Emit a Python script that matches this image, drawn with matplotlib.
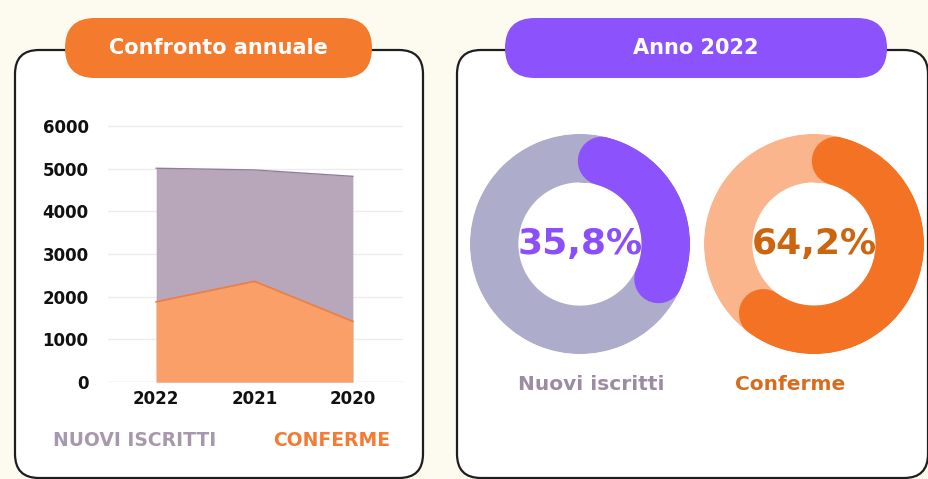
import numpy as np
import matplotlib.pyplot as plt
from matplotlib.patches import FancyBboxPatch

# data
anni = ['2022', '2021', '2020']
nuovi_iscritti = [5010, 4970, 4820]   # top of the mauve area
conferme = [1880, 2360, 1420]         # top of the orange area
y_ticks = [0, 1000, 2000, 3000, 4000, 5000, 6000]

quota_nuovi = 35.8
quota_conferme = 64.2

W, H = 929, 479
fig = plt.figure(figsize=(W / 100, H / 100), dpi=100)
fig.patch.set_facecolor('#fdfaf0')

# background layer in pixel coords, for panels and title pills
bg = fig.add_axes([0, 0, 1, 1])
bg.set_xlim(0, W)
bg.set_ylim(H, 0)
bg.axis('off')

def box(x, y, w, h, r, fc, ec='none', lw=0, z=1):
    bg.add_patch(FancyBboxPatch((x, y), w, h, boxstyle=f'round,pad=0,rounding_size={r}',
                                fc=fc, ec=ec, lw=lw, zorder=z))

box(15, 50, 408, 428, 24, 'white', '#1e1e1e', 1.6)
box(457, 50, 471, 428, 24, 'white', '#1e1e1e', 1.6)
box(65, 18, 307, 60, 30, '#f47a2e', z=3)
box(505, 18, 382, 60, 30, '#8c52fb', z=3)

bold = dict(family='DejaVu Sans', fontweight='bold')
bg.text(218, 48, 'Confronto annuale', color='white', fontsize=15, ha='center', va='center', zorder=4, **bold)
bg.text(696, 48, 'Anno 2022', color='white', fontsize=15, ha='center', va='center', zorder=4, **bold)
bg.text(53, 440, 'NUOVI ISCRITTI', color='#a898ad', fontsize=13.5, ha='left', va='center', zorder=4, **bold)
bg.text(390, 440, 'CONFERME', color='#f47b34', fontsize=13.5, ha='right', va='center', zorder=4, **bold)
bg.text(591, 385, 'Nuovi iscritti', color='#9c8ca1', fontsize=14.5, ha='center', va='center', zorder=4, **bold)
bg.text(790, 384, 'Conferme', color='#d86b1c', fontsize=14.5, ha='center', va='center', zorder=4, **bold)

# area chart
ax = fig.add_axes([108 / W, 1 - 382 / H, 295 / W, (382 - 119.6) / H])
ax.patch.set_alpha(0)
x = np.arange(len(anni))
ax.fill_between(x, nuovi_iscritti, color='#b8a6bb', lw=0, zorder=2)
ax.plot(x, nuovi_iscritti, color='#8f7f96', lw=1, zorder=3)
ax.fill_between(x, conferme, color='#fa9f68', lw=0, zorder=4)
ax.plot(x, conferme, color='#ea7f45', lw=1.2, zorder=5)
ax.set_xlim(-0.49, 2.51)
ax.set_ylim(0, 6150)
ax.set_yticks(y_ticks)
ax.set_xticks(x, anni)
for y in y_ticks:
    ax.axhline(y, color='#cfcfcf' if y == 0 else '#ececec', lw=1, zorder=1)
for s in ax.spines.values():
    s.set_visible(False)
ax.tick_params(length=0, labelsize=12, colors='#111111')
ax.tick_params(axis='y', pad=14)
ax.tick_params(axis='x', pad=6)
for lab in ax.get_xticklabels() + ax.get_yticklabels():
    lab.set_fontweight('bold')
    lab.set_family('DejaVu Sans')

# donuts
def donut(cx, quota, c_bg, c_fg, c_txt):
    r = 110
    pa = fig.add_axes([(cx - r) / W, 1 - (244 + r) / H, 2 * r / W, 2 * r / H], projection='polar')
    pa.set_theta_zero_location('N')
    pa.set_theta_direction(-1)
    pa.set_ylim(0, 1.28)
    pa.axis('off')
    # full background ring, overlapping at the seam
    th = np.linspace(0, 2 * np.pi + 0.1, 370)
    pa.plot(th, np.ones_like(th), color=c_bg, lw=35, solid_capstyle='butt')
    cap = 0.26  # keep the round caps inside the arc span
    th = np.linspace(cap, 2 * np.pi * quota / 100 - cap, 200)
    pa.plot(th, np.ones_like(th), color=c_fg, lw=35, solid_capstyle='round')
    txt = f'{quota:.1f}%'.replace('.', ',')
    pa.text(0, 0, txt, color=c_txt, fontsize=26, ha='center', va='center', **bold)

donut(580, quota_nuovi, '#adacca', '#8c52fb', '#8a4ffb')
donut(814, quota_conferme, '#fbb58c', '#f47224', '#cc650f')

fig.savefig('out.png', dpi=100, facecolor=fig.get_facecolor())
